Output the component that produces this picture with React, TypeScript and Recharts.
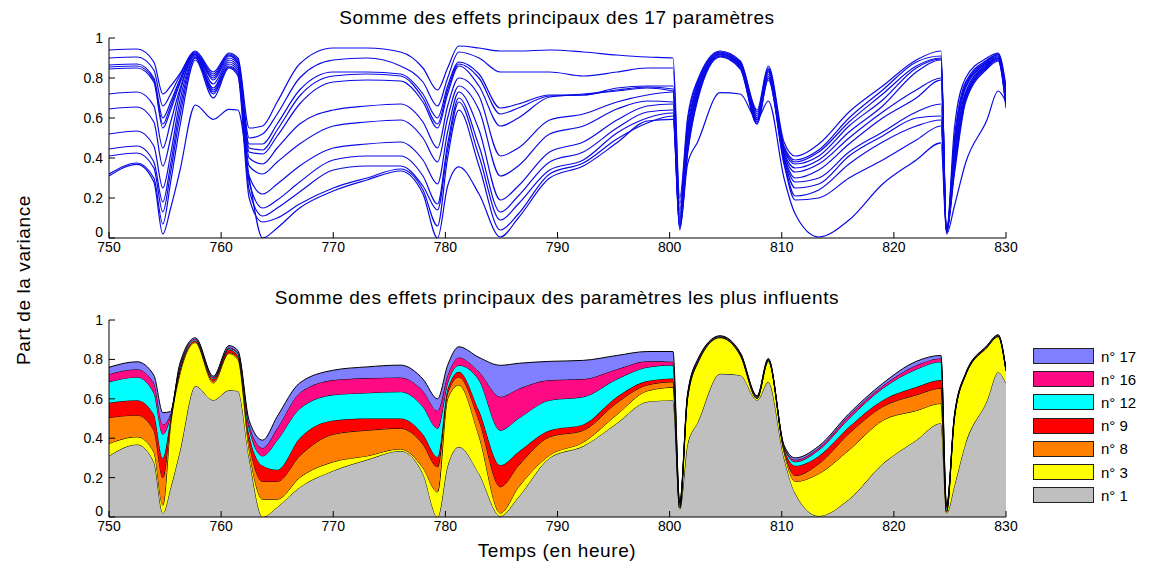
import { LineChart, Line, AreaChart, Area, XAxis, YAxis } from 'recharts';

// temps (heures) communs aux deux graphes
const hours = [
  750, 752.5, 754, 754.8, 755.5, 756.3, 757.7, 759.3, 760.7, 761.5,
  762.5, 763.7, 765, 767, 770, 773, 776, 778, 779.3, 780.2,
  781.2, 783, 784.9, 786.5, 789.3, 792.3, 795.3, 798, 800.3, 800.9,
  801.6, 802.5, 804.5, 806.3, 807.8, 808.8, 810.2, 811.2, 813.3, 816,
  819, 822, 824.2, 824.7, 825.4, 826.4, 828.3, 829.3, 830,
];

// graphe du haut : somme des effets principaux des 17 parametres
const s01 = [
  0.94, 0.945, 0.88, 0.72, 0.76, 0.82, 0.935, 0.83, 0.925, 0.9,
  0.55, 0.56, 0.68, 0.87, 0.95, 0.95, 0.93, 0.85, 0.74, 0.85,
  0.96, 0.95, 0.935, 0.935, 0.94, 0.93, 0.915, 0.905, 0.9, 0.2,
  0.6, 0.79, 0.935, 0.885, 0.64, 0.86, 0.48, 0.41, 0.47, 0.63,
  0.76, 0.89, 0.935, 0.03, 0.55, 0.8, 0.9, 0.925, 0.76,
];
const s02 = [
  0.9, 0.905, 0.84, 0.66, 0.72, 0.81, 0.93, 0.82, 0.92, 0.89,
  0.5, 0.52, 0.62, 0.8, 0.89, 0.9, 0.86, 0.78, 0.66, 0.8,
  0.93, 0.9, 0.83, 0.83, 0.83, 0.81, 0.83, 0.85, 0.85, 0.17,
  0.58, 0.78, 0.93, 0.88, 0.63, 0.85, 0.46, 0.39, 0.44, 0.6,
  0.74, 0.88, 0.91, 0.03, 0.5, 0.78, 0.89, 0.92, 0.74,
];
const s03 = [
  0.865, 0.87, 0.8, 0.6, 0.68, 0.79, 0.925, 0.81, 0.915, 0.88,
  0.47, 0.47, 0.57, 0.74, 0.83, 0.83, 0.82, 0.72, 0.6, 0.76,
  0.88, 0.82, 0.65, 0.67, 0.715, 0.715, 0.75, 0.76, 0.76, 0.14,
  0.55, 0.77, 0.93, 0.875, 0.62, 0.845, 0.45, 0.38, 0.43, 0.58,
  0.72, 0.86, 0.9, 0.03, 0.48, 0.77, 0.885, 0.92, 0.73,
];
const s04 = [
  0.855, 0.86, 0.79, 0.57, 0.66, 0.78, 0.92, 0.8, 0.91, 0.875,
  0.45, 0.44, 0.54, 0.71, 0.81, 0.82, 0.81, 0.7, 0.57, 0.74,
  0.87, 0.8, 0.62, 0.65, 0.71, 0.715, 0.74, 0.755, 0.745, 0.12,
  0.53, 0.76, 0.925, 0.87, 0.61, 0.84, 0.44, 0.37, 0.41, 0.56,
  0.69, 0.85, 0.895, 0.03, 0.46, 0.76, 0.88, 0.915, 0.72,
];
const s05 = [
  0.845, 0.85, 0.78, 0.55, 0.64, 0.77, 0.92, 0.79, 0.9, 0.87,
  0.43, 0.42, 0.51, 0.67, 0.78, 0.79, 0.785, 0.68, 0.55, 0.72,
  0.86, 0.76, 0.56, 0.6, 0.705, 0.72, 0.735, 0.75, 0.735, 0.1,
  0.52, 0.75, 0.92, 0.87, 0.6, 0.835, 0.43, 0.35, 0.39, 0.53,
  0.66, 0.83, 0.89, 0.03, 0.44, 0.75, 0.875, 0.91, 0.7,
];
const s06 = [
  0.72, 0.73, 0.66, 0.45, 0.58, 0.74, 0.915, 0.77, 0.89, 0.86,
  0.4, 0.37, 0.45, 0.57, 0.64, 0.66, 0.67, 0.58, 0.45, 0.66,
  0.8, 0.71, 0.41, 0.45, 0.59, 0.62, 0.68, 0.715, 0.73, 0.09,
  0.5, 0.74, 0.92, 0.865, 0.59, 0.83, 0.42, 0.33, 0.37, 0.5,
  0.63, 0.74, 0.8, 0.03, 0.42, 0.73, 0.87, 0.905, 0.69,
];
const s07 = [
  0.645, 0.655, 0.58, 0.36, 0.5, 0.72, 0.91, 0.75, 0.88, 0.85,
  0.36, 0.32, 0.38, 0.47, 0.56, 0.58, 0.59, 0.5, 0.38, 0.6,
  0.76, 0.64, 0.31, 0.36, 0.52, 0.56, 0.645, 0.685, 0.68, 0.08,
  0.48, 0.73, 0.92, 0.86, 0.59, 0.82, 0.41, 0.3, 0.34, 0.47,
  0.6, 0.7, 0.79, 0.03, 0.4, 0.72, 0.865, 0.9, 0.68,
];
const s08 = [
  0.52, 0.535, 0.46, 0.25, 0.42, 0.68, 0.905, 0.74, 0.87, 0.84,
  0.31, 0.22, 0.27, 0.36, 0.45, 0.47, 0.48, 0.39, 0.27, 0.53,
  0.73, 0.54, 0.19, 0.26, 0.43, 0.48, 0.59, 0.66, 0.67, 0.07,
  0.46, 0.72, 0.915, 0.86, 0.58, 0.81, 0.4, 0.28, 0.3, 0.43,
  0.53, 0.63, 0.67, 0.03, 0.38, 0.71, 0.86, 0.9, 0.67,
];
const s09 = [
  0.445, 0.46, 0.38, 0.18, 0.37, 0.64, 0.9, 0.73, 0.86, 0.83,
  0.28, 0.15, 0.19, 0.28, 0.39, 0.41, 0.41, 0.31, 0.17, 0.47,
  0.7, 0.46, 0.13, 0.21, 0.38, 0.43, 0.55, 0.63, 0.64, 0.06,
  0.44, 0.71, 0.91, 0.855, 0.58, 0.8, 0.39, 0.25, 0.27, 0.41,
  0.51, 0.6, 0.61, 0.03, 0.36, 0.7, 0.855, 0.895, 0.66,
];
const s10 = [
  0.41, 0.425, 0.35, 0.13, 0.33, 0.6, 0.9, 0.72, 0.855, 0.82,
  0.24, 0.11, 0.15, 0.23, 0.34, 0.36, 0.36, 0.26, 0.14, 0.44,
  0.68, 0.41, 0.09, 0.17, 0.34, 0.39, 0.525, 0.6, 0.625, 0.05,
  0.43, 0.7, 0.91, 0.85, 0.57, 0.8, 0.38, 0.21, 0.24, 0.37,
  0.48, 0.56, 0.59, 0.03, 0.34, 0.69, 0.85, 0.89, 0.66,
];
const s11 = [
  0.32, 0.375, 0.3, 0.07, 0.28, 0.55, 0.89, 0.7, 0.85, 0.81,
  0.2, 0.08, 0.1, 0.17, 0.25, 0.3, 0.345, 0.24, 0.06, 0.4,
  0.64, 0.36, 0.04, 0.12, 0.32, 0.375, 0.495, 0.575, 0.61, 0.05,
  0.42, 0.69, 0.905, 0.845, 0.57, 0.79, 0.37, 0.19, 0.2, 0.3,
  0.39, 0.49, 0.56, 0.03, 0.32, 0.68, 0.845, 0.885, 0.65,
];
const s12 = [
  0.31, 0.368, 0.28, 0.02, 0.15, 0.33, 0.665, 0.593, 0.643, 0.64,
  0.3, 0, 0.05, 0.15, 0.235, 0.29, 0.335, 0.22, 0, 0.26,
  0.356, 0.22, 0.005, 0.1, 0.3, 0.36, 0.476, 0.585, 0.593, 0.04,
  0.37, 0.48, 0.727, 0.72, 0.593, 0.685, 0.3, 0.12, 0.005, 0.09,
  0.27, 0.39, 0.476, 0.02, 0.16, 0.376, 0.59, 0.735, 0.68,
];

// graphe du bas : parts empilees des parametres les plus influents
const n1 = [
  0.31, 0.368, 0.28, 0.02, 0.15, 0.33, 0.665, 0.593, 0.643, 0.64,
  0.3, 0, 0.05, 0.15, 0.235, 0.29, 0.335, 0.22, 0, 0.26,
  0.356, 0.22, 0.005, 0.1, 0.3, 0.36, 0.476, 0.585, 0.593, 0.04,
  0.37, 0.48, 0.727, 0.72, 0.593, 0.685, 0.3, 0.12, 0.005, 0.09,
  0.27, 0.39, 0.476, 0.02, 0.16, 0.376, 0.59, 0.735, 0.68,
];
const n3 = [
  0.063, 0.039, 0.05, 0.04, 0.32, 0.39, 0.22, 0.087, 0.187, 0.16,
  0.04, 0.09, 0.04, 0.05, 0.045, 0.02, 0.01, 0.03, 0.127, 0.34,
  0.314, 0.19, 0.015, 0.05, 0.014, 0.02, 0.044, 0.055, 0.065, 0.005,
  0.23, 0.3, 0.183, 0.1, 0.007, 0.105, 0.03, 0.06, 0.215, 0.25,
  0.22, 0.15, 0.1, 0.005, 0.34, 0.344, 0.27, 0.18, 0.06,
];
const n8 = [
  0.132, 0.11, 0.11, 0.14, 0.02, 0.015, 0.005, 0.01, 0.005, 0.01,
  0.04, 0.09, 0.09, 0.11, 0.14, 0.13, 0.105, 0.12, 0.127, 0.03,
  0.04, 0.08, 0.133, 0.11, 0.093, 0.06, 0.06, 0.03, 0.028, 0.005,
  0.005, 0.004, 0.002, 0.003, 0.003, 0.003, 0.01, 0.03, 0.05, 0.084,
  0.07, 0.08, 0.077, 0.005, 0.003, 0.002, 0.002, 0.002, 0.002,
];
const n9 = [
  0.075, 0.076, 0.08, 0.1, 0.015, 0.01, 0.005, 0.01, 0.015, 0.01,
  0.04, 0.08, 0.06, 0.09, 0.07, 0.06, 0.05, 0.05, 0.051, 0.02,
  0.027, 0.05, 0.11, 0.07, 0.033, 0.03, 0.03, 0.02, 0.017, 0.005,
  0.005, 0.004, 0.002, 0.003, 0.003, 0.003, 0.01, 0.05, 0.04, 0.034,
  0.033, 0.04, 0.042, 0.005, 0.003, 0.002, 0.002, 0.002, 0.002,
];
const n12 = [
  0.106, 0.117, 0.11, 0.12, 0.01, 0.01, 0.005, 0.005, 0.005, 0.01,
  0.03, 0.05, 0.15, 0.15, 0.13, 0.13, 0.136, 0.14, 0.145, 0.03,
  0.033, 0.155, 0.177, 0.17, 0.153, 0.14, 0.09, 0.07, 0.068, 0.005,
  0.005, 0.004, 0.002, 0.003, 0.003, 0.003, 0.005, 0.02, 0.03, 0.042,
  0.06, 0.09, 0.093, 0.01, 0.005, 0.002, 0.002, 0.002, 0.002,
];
const n16 = [
  0.039, 0.04, 0.05, 0.05, 0.01, 0.01, 0.005, 0.005, 0.005, 0.005,
  0.02, 0.04, 0.06, 0.08, 0.075, 0.075, 0.072, 0.08, 0.09, 0.04,
  0.04, 0.042, 0.17, 0.15, 0.102, 0.09, 0.05, 0.03, 0.017, 0.005,
  0.005, 0.004, 0.002, 0.003, 0.003, 0.003, 0.005, 0.01, 0.01, 0.015,
  0.012, 0.02, 0.017, 0.005, 0.003, 0.002, 0.002, 0.002, 0.002,
];
const n17 = [
  0.035, 0.038, 0.04, 0.06, 0.01, 0.01, 0.005, 0.005, 0.01, 0.01,
  0.02, 0.04, 0.06, 0.05, 0.05, 0.057, 0.063, 0.06, 0.06, 0.05,
  0.054, 0.073, 0.16, 0.13, 0.095, 0.095, 0.07, 0.05, 0.052, 0.005,
  0.005, 0.004, 0.002, 0.003, 0.003, 0.003, 0.005, 0.01, 0.01, 0.01,
  0.013, 0.02, 0.015, 0.005, 0.003, 0.002, 0.002, 0.002, 0.002,
];

const xTicks = [750, 760, 770, 780, 790, 800, 810, 820, 830];
const yTicks = [0, 0.2, 0.4, 0.6, 0.8, 1];

const topLines = [s01, s02, s03, s04, s05, s06, s07, s08, s09, s10, s11, s12];

// ordre d'empilement : du bas vers le haut
const stacked = [
  { key: 'n1', label: 'n° 1', values: n1, color: '#bfbfbf' },
  { key: 'n3', label: 'n° 3', values: n3, color: '#ffff00' },
  { key: 'n8', label: 'n° 8', values: n8, color: '#ff8000' },
  { key: 'n9', label: 'n° 9', values: n9, color: '#ff0000' },
  { key: 'n12', label: 'n° 12', values: n12, color: '#00ffff' },
  { key: 'n16', label: 'n° 16', values: n16, color: '#ff0a85' },
  { key: 'n17', label: 'n° 17', values: n17, color: '#7f7fff' },
];

const topData = hours.map((t, i) => {
  const row: any = { t };
  topLines.forEach((s, k) => { row['s' + k] = s[i]; });
  return row;
});

const bottomData = hours.map((t, i) => {
  const row: any = { t };
  stacked.forEach((s) => { row[s.key] = s.values[i]; });
  return row;
});

const FONT = '"Liberation Sans", Arial, sans-serif';
const tickStyle = { fontSize: 14, fill: '#000', fontFamily: FONT };

// etiquette de l'axe y ; le 0 est un peu remonte pour ne pas toucher le 750
const YTick = (props: any) => {
  const { x, y, payload } = props;
  const lift = payload.value === 0 ? -6 : 0;
  return (
    <text x={x} y={y + lift} dy="0.35em" textAnchor="end" fontSize={14} fill="#000" fontFamily={FONT}>
      {String(payload.value)}
    </text>
  );
};

const label = (left: number, top: number, text: string, extra: any = {}) => (
  <div
    style={{
      position: 'absolute', left, top, transform: 'translate(-50%, -50%)',
      whiteSpace: 'nowrap', fontSize: 19, letterSpacing: 0.6, color: '#000', fontFamily: FONT, ...extra,
    }}
  >
    {text}
  </div>
);

export default function App() {
  return (
    <div style={{ position: 'absolute', left: 0, top: 0, width: 1157, height: 565, background: '#fff', fontFamily: FONT }}>
      {label(557, 18, 'Somme des effets principaux des 17 paramètres')}
      {label(557, 298, 'Somme des effets principaux des paramètres les plus influents')}
      {label(557, 551, 'Temps (en heure)')}
      {label(24, 280, 'Part de la variance', { transform: 'translate(-50%, -50%) rotate(-90deg)' })}

      <div style={{ position: 'absolute', left: 0, top: 0 }}>
        <LineChart width={1157} height={270} data={topData} margin={{ top: 38, right: 151, bottom: 0, left: 69 }}>
          <XAxis xAxisId="b" dataKey="t" type="number" domain={[750, 830]} ticks={xTicks} interval={0}
            height={32} tickSize={-6} tickMargin={10} tick={tickStyle} stroke="#000" allowDataOverflow />
          <XAxis xAxisId="t" orientation="top" dataKey="t" type="number" domain={[750, 830]} ticks={xTicks}
            interval={0} height={0} tickSize={-6} tick={false} stroke="#000" allowDataOverflow />
          <YAxis yAxisId="l" type="number" domain={[0, 1]} ticks={yTicks} interval={0} width={40}
            tickSize={-6} tickMargin={12} tick={<YTick />} stroke="#000" allowDataOverflow />
          <YAxis yAxisId="r" orientation="right" type="number" domain={[0, 1]} ticks={yTicks} interval={0}
            width={0} tickSize={-6} tick={false} stroke="#000" allowDataOverflow />
          {topLines.map((_, k) => (
            <Line key={k} xAxisId="b" yAxisId="l" type="monotone" dataKey={'s' + k} stroke="#0a0ae6"
              strokeWidth={1.2} dot={false} activeDot={false} isAnimationActive={false} />
          ))}
        </LineChart>
      </div>

      <div style={{ position: 'absolute', left: 0, top: 280 }}>
        <AreaChart width={1157} height={285} data={bottomData} margin={{ top: 40, right: 151, bottom: 0, left: 69 }}>
          <XAxis xAxisId="b" dataKey="t" type="number" domain={[750, 830]} ticks={xTicks} interval={0}
            height={48} tickSize={-6} tickMargin={10} tick={tickStyle} stroke="#000" allowDataOverflow />
          <XAxis xAxisId="t" orientation="top" dataKey="t" type="number" domain={[750, 830]} ticks={xTicks}
            interval={0} height={0} tickSize={-6} tick={false} stroke="#000" allowDataOverflow />
          <YAxis yAxisId="l" type="number" domain={[0, 1]} ticks={yTicks} interval={0} width={40}
            tickSize={-6} tickMargin={12} tick={<YTick />} stroke="#000" allowDataOverflow />
          <YAxis yAxisId="r" orientation="right" type="number" domain={[0, 1]} ticks={yTicks} interval={0}
            width={0} tickSize={-6} tick={false} stroke="#000" allowDataOverflow />
          {stacked.map((s) => (
            <Area key={s.key} xAxisId="b" yAxisId="l" type="monotone" dataKey={s.key} stackId="v"
              stroke="#000" strokeWidth={1} fill={s.color} fillOpacity={1}
              dot={false} activeDot={false} isAnimationActive={false} />
          ))}
        </AreaChart>
      </div>

      {[...stacked].reverse().map((s, i) => (
        <div key={s.key} style={{ position: 'absolute', left: 1033, top: 348 + i * 23.2, height: 16, display: 'flex', alignItems: 'center' }}>
          <div style={{ width: 61, height: 16, boxSizing: 'border-box', border: '1px solid #222', background: s.color }} />
          <span style={{ marginLeft: 7, fontSize: 15, color: '#000', fontFamily: FONT }}>{s.label}</span>
        </div>
      ))}
    </div>
  );
}
